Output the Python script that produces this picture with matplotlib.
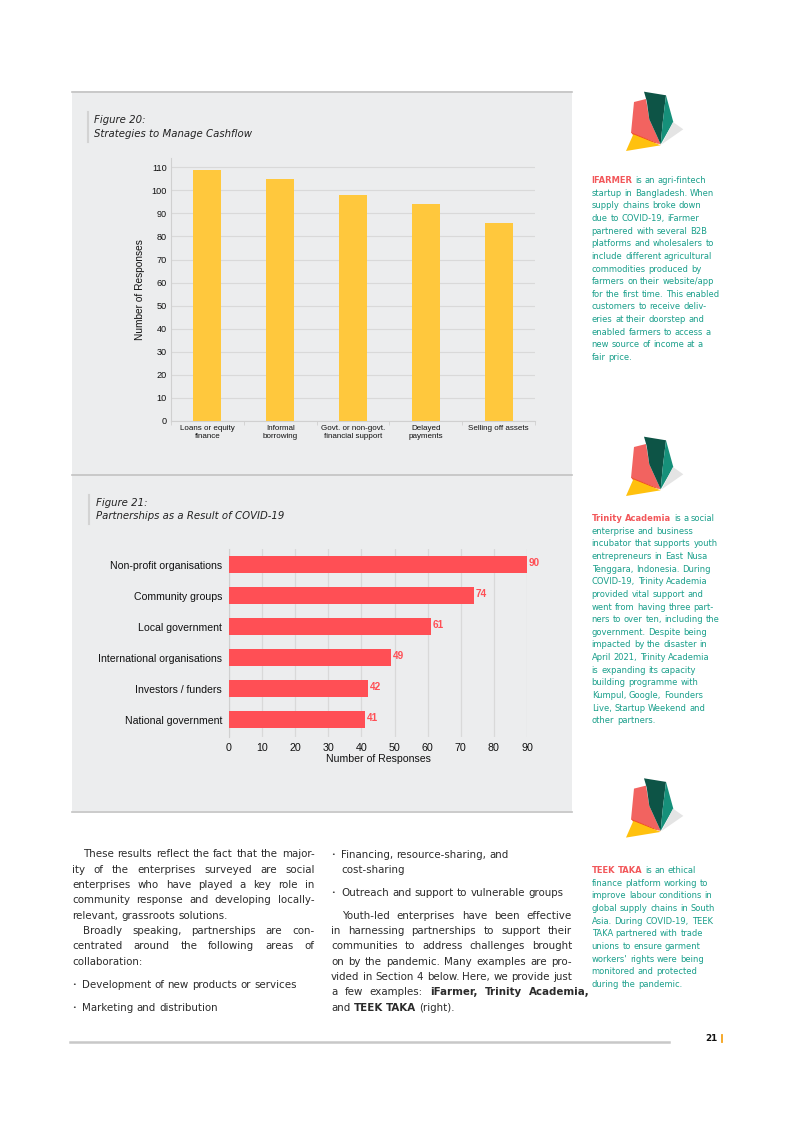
import numpy as np
import matplotlib.pyplot as plt
from matplotlib.patches import Rectangle, Polygon

W, H = 793, 1122

# figure 20 data
cash_labels = ['Loans or equity\nfinance', 'Informal\nborrowing', 'Govt. or non-govt.\nfinancial support',
               'Delayed\npayments', 'Selling off assets']
cash_values = [109, 105, 98, 94, 86]
cash_ticks = list(range(0, 111, 10))

# figure 21 data
partner_labels = ['Non-profit organisations', 'Community groups', 'Local government',
                  'International organisations', 'Investors / funders', 'National government']
partner_values = [90, 74, 61, 49, 42, 41]
partner_ticks = list(range(0, 91, 10))

YELLOW = '#FFC83D'
RED = '#FF4F55'
TEAL = '#1A9F8B'
CORAL = '#F2575A'
BODY = '#2B2B2B'
PANEL = '#ECEDEE'
GRID = '#D9D9D9'
CHART_FONT = 'Liberation Sans'

ifarmer_lines = [
  '**IFARMER** is an agri-fintech',
  'startup in Bangladesh. When',
  'supply chains broke down',
  'due to COVID-19, iFarmer',
  'partnered with several B2B',
  'platforms and wholesalers to',
  'include different agricultural',
  'commodities produced by',
  'farmers on their website/app',
  'for the first time. This enabled',
  'customers to receive deliv-',
  'eries at their doorstep and',
  'enabled farmers to access a',
  'new source of income at a',
  'fair price.',
]
trinity_lines = [
  '**Trinity** **Academia** is a social',
  'enterprise and business',
  'incubator that supports youth',
  'entrepreneurs in East Nusa',
  'Tenggara, Indonesia. During',
  'COVID-19, Trinity Academia',
  'provided vital support and',
  'went from having three part-',
  'ners to over ten, including the',
  'government. Despite being',
  'impacted by the disaster in',
  'April 2021, Trinity Academia',
  'is expanding its capacity',
  'building programme with',
  'Kumpul, Google, Founders',
  'Live, Startup Weekend and',
  'other partners.',
]
teektaka_lines = [
  '**TEEK** **TAKA** is an ethical',
  'finance platform working to',
  'improve labour conditions in',
  'global supply chains in South',
  'Asia. During COVID-19, TEEK',
  'TAKA partnered with trade',
  'unions to ensure garment',
  "workers' rights were being",
  'monitored and protected',
  'during the pandemic.',
]

# body text: (x start, baseline, text, justified, bullet)
left_col = [
  (83, 857.3, 'These results reflect the fact that the major-', True, False),
  (72, 872.7, 'ity of the enterprises surveyed are social', True, False),
  (72, 887.9, 'enterprises who have played a key role in', True, False),
  (72, 903.3, 'community response and developing locally-', True, False),
  (72, 919.0, 'relevant, grassroots solutions.', False, False),
  (83, 934.0, 'Broadly speaking, partnerships are con-', True, False),
  (72, 949.3, 'centrated around the following areas of', True, False),
  (72, 964.5, 'collaboration:', False, False),
  (82, 988.3, 'Development of new products or services', False, True),
  (82, 1010.7, 'Marketing and distribution', False, True),
]
right_col = [
  (341, 858.3, 'Financing, resource-sharing, and', False, True),
  (341, 873.3, 'cost-sharing', False, False),
  (341, 896.0, 'Outreach and support to vulnerable groups', False, True),
  (342, 919.0, 'Youth-led enterprises have been effective', True, False),
  (331, 934.0, 'in harnessing partnerships to support their', True, False),
  (331, 949.3, 'communities to address challenges brought', True, False),
  (331, 964.5, 'on by the pandemic. Many examples are pro-', True, False),
  (331, 980.0, 'vided in Section 4 below. Here, we provide just', True, False),
  (331, 995.3, 'a few examples: **iFarmer**, **Trinity** **Academia**,', True, False),
  (331, 1010.7, 'and **TEEK** **TAKA** (right).', False, False),
]

# logo pieces (page pixels, first logo)
logo_parts = [
  ('#F26360', [(634, 102), (646, 99), (649.3, 119.3), (660.7, 144.3), (631, 133)]),
  ('#F04B24', [(631.5, 132.5), (660.7, 144.3), (635, 138.5)]),
  ('#FFC10E', [(626, 151), (633.3, 134.3), (660.7, 145.3)]),
  ('#0D5446', [(644, 91.7), (666, 95.3), (662.7, 122.7), (660.7, 144.3), (649.3, 119.3), (646.7, 101)]),
  ('#16907A', [(666, 95.3), (673.3, 122), (660.7, 144.3), (662.7, 122.7)]),
  ('#E4E4E4', [(673, 122), (683.3, 129.3), (661.7, 144.3)]),
]


fig = plt.figure(figsize=(W / 100, H / 100), dpi=100)
fig.patch.set_facecolor('white')
renderer = fig.canvas.get_renderer()

# page layer in pixel coordinates
bg = fig.add_axes([0, 0, 1, 1])
bg.set_xlim(0, W)
bg.set_ylim(H, 0)
bg.axis('off')


def text_width(s, size, weight='normal'):
  t = bg.text(0, 0, s, fontsize=size, fontweight=weight)
  w = t.get_window_extent(renderer).width
  t.remove()
  return w


def put_line(x0, y, line, size, color, x1=None, hl=None):
  # one text per word; starts taken from the laid-out line, stretched when justified
  words = line.split()
  plain = [w.replace('**', '') for w in words]
  bolds = ['**' in w for w in words]
  n = len(plain)
  extra = 0
  if x1 is not None and n > 1:
    extra = (x1 - x0 - text_width(' '.join(plain), size)) / (n - 1)
  shift = 0
  for k in range(n):
    start = text_width(' '.join(plain[:k + 1]), size) - text_width(plain[k], size)
    weight = 'bold' if bolds[k] else 'normal'
    bg.text(x0 + start + k * extra + shift, y, plain[k], fontsize=size, va='baseline', ha='left',
            color=(hl or color) if bolds[k] else color, fontweight=weight)
    if bolds[k]:
      shift += text_width(plain[k], size, 'bold') - text_width(plain[k], size)


def draw_logo(dy):
  for col, pts in logo_parts:
    bg.add_patch(Polygon([(px, py + dy) for px, py in pts], closed=True, fc=col, ec='none'))


# grey panel behind both figures
bg.add_patch(Rectangle((72, 91), 500, 720, fc=PANEL, ec='none'))
for yy in (91.7, 475, 811.5):
  bg.plot([72, 572], [yy, yy], color='#C2C2C2', lw=1.2)

# captions
cap = dict(fontsize=7.3, style='italic', color='#222222', va='baseline')
bg.plot([88, 88], [112, 142], color='#D3D3D3', lw=1.5)
bg.text(94, 123.3, 'Figure 20:', **cap)
bg.text(94, 136.7, 'Strategies to Manage Cashflow', **cap)
bg.plot([89, 89], [495, 524], color='#D3D3D3', lw=1.5)
bg.text(95.5, 506, 'Figure 21:', **cap)
bg.text(95.5, 519.3, 'Partnerships as a Result of COVID-19', **cap)

# Figure 20: vertical bars
ax1 = fig.add_axes([171 / W, 1 - 421 / H, 364 / W, 263 / H])
ax1.set_facecolor('none')
x = np.arange(len(cash_labels))
ax1.bar(x, cash_values, width=0.385, color=YELLOW, zorder=3)
ax1.set_xlim(-0.5, len(cash_labels) - 0.5)
ax1.set_ylim(0, 114)
ax1.set_yticks(cash_ticks)
ax1.set_xticks(x)
ax1.set_xticklabels(cash_labels, fontfamily=CHART_FONT, linespacing=1.15)
ax1.set_xticks(np.arange(-0.5, len(cash_labels), 1), minor=True)
for lab in ax1.get_yticklabels():
  lab.set_fontfamily(CHART_FONT)
ax1.grid(axis='y', color=GRID, lw=0.8, zorder=0)
for s in ('top', 'right'):
  ax1.spines[s].set_visible(False)
for s in ('left', 'bottom'):
  ax1.spines[s].set_color('#D0D0D0')
ax1.tick_params(axis='y', length=0, pad=3, labelsize=6.6, labelcolor='#111111')
ax1.tick_params(axis='x', which='major', length=0, pad=3, labelsize=5.8, labelcolor='#111111')
ax1.tick_params(axis='x', which='minor', length=3, color='#D0D0D0')
ax1.set_ylabel('Number of Responses', fontsize=7.3, fontfamily=CHART_FONT, labelpad=5, color='#111111')

# Figure 21: horizontal bars
ax2 = fig.add_axes([229 / W, 1 - 737 / H, 298 / W, 188 / H])
ax2.set_facecolor('none')
y = np.arange(len(partner_labels))
ax2.barh(y, partner_values, height=0.55, color=RED, zorder=3)
for i, v in enumerate(partner_values):
  ax2.text(v + 0.6, i - 0.05, str(v), va='center', ha='left', color=RED, fontsize=7.2,
           fontweight='bold', fontfamily=CHART_FONT)
ax2.set_xlim(0, 90)
ax2.set_ylim(len(partner_labels) - 0.44, -0.5)
ax2.set_xticks(partner_ticks)
ax2.set_yticks(y)
ax2.set_yticklabels(partner_labels, fontfamily=CHART_FONT)
for lab in ax2.get_xticklabels():
  lab.set_fontfamily(CHART_FONT)
ax2.grid(axis='x', color=GRID, lw=0.9, zorder=0)
for s in ('top', 'right', 'bottom'):
  ax2.spines[s].set_visible(False)
ax2.spines['left'].set_color('#D0D0D0')
ax2.tick_params(axis='y', length=0, pad=5, labelsize=7.6, labelcolor='#111111')
ax2.tick_params(axis='x', length=0, pad=4, labelsize=7.7, labelcolor='#111111')
ax2.set_xlabel('Number of Responses', fontsize=7.6, fontfamily=CHART_FONT, labelpad=1, color='#111111')

# side column: logos and case notes
for dy in (0, 345, 686.6):
  draw_logo(dy)
for lines, top in ((ifarmer_lines, 183.2), (trinity_lines, 521.2), (teektaka_lines, 873.2)):
  for k, ln in enumerate(lines):
    put_line(591.7, top + k * 12.62, ln, 6.0, TEAL, hl=CORAL)

# body text: shrink the size until every justified line fits its column
body_size = 8.3
cols = ((left_col, 314.5), (right_col, 572))
for rows, right in cols:
  for x0, yy, ln, just, bullet in rows:
    if just:
      need = text_width(ln.replace('**', ''), body_size)
      body_size = min(body_size, body_size * (right - x0) / need * 0.99)

for rows, right in cols:
  for x0, yy, ln, just, bullet in rows:
    if bullet:
      bg.text(x0 - 9.5, yy - 2, '•', fontsize=4.5, color=BODY, va='baseline')
    put_line(x0, yy, ln, body_size, BODY, x1=right if just else None)

# footer
bg.plot([70, 669], [1041.7, 1041.7], color='#C8C8C8', lw=1.8)
bg.text(718, 1041, '21', fontsize=6.3, fontweight='bold', color='#111111', ha='right', va='baseline')
bg.plot([721.7, 721.7], [1034.5, 1042], color='#F5A31A', lw=1.3)

fig.savefig('out.png', dpi=100)
